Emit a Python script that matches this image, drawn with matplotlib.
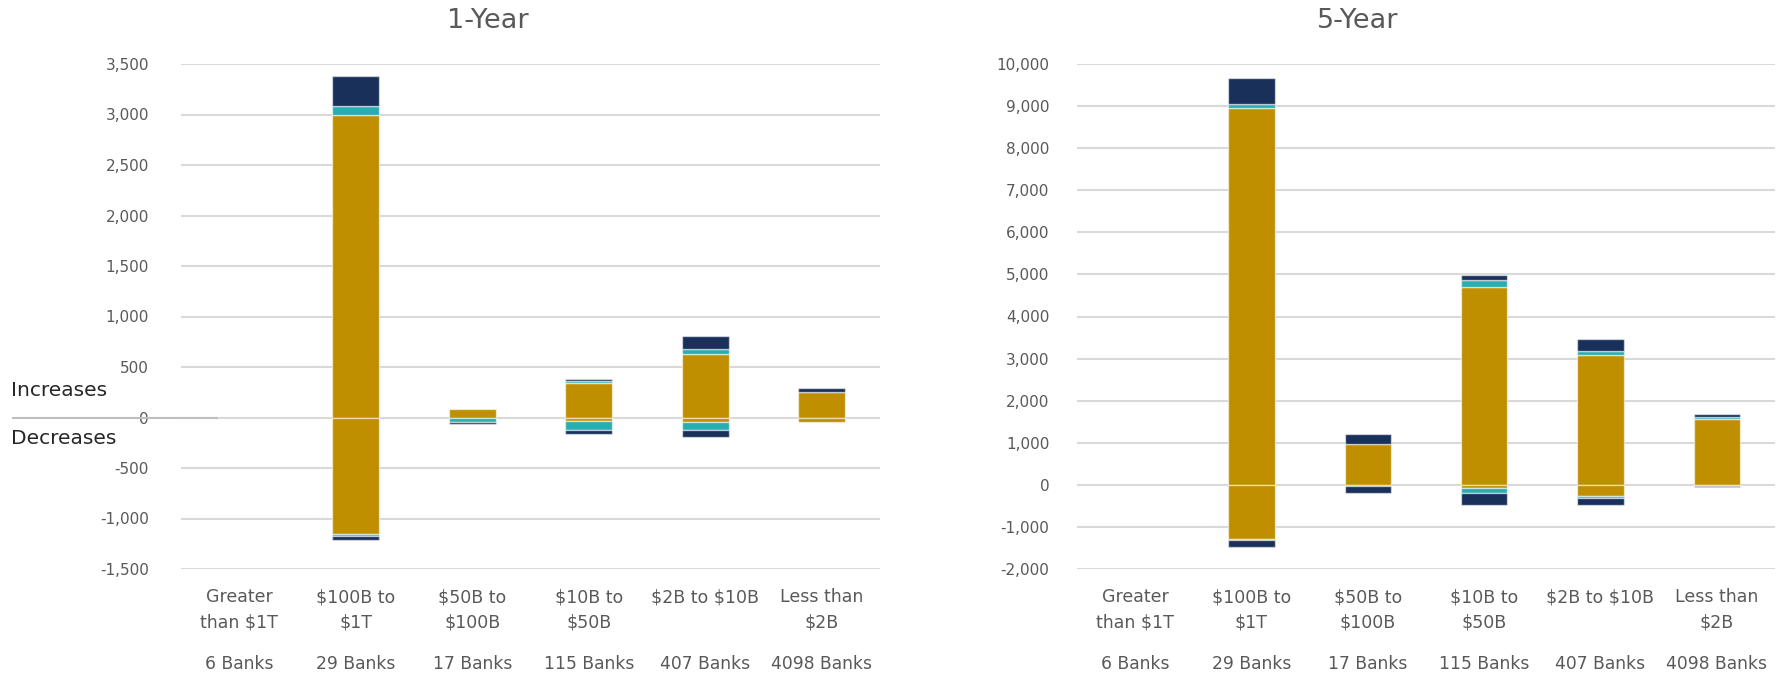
import matplotlib
matplotlib.use("Agg")
import matplotlib.pyplot as plt
import numpy as np
from matplotlib.lines import Line2D
from matplotlib.ticker import FuncFormatter
import matplotlib.transforms as mtransforms

plt.rcParams['font.family'] = ['DejaVu Sans']

categories = ["Greater\nthan \\$1T", "\\$100B to\n\\$1T", "\\$50B to\n\\$100B",
              "\\$10B to\n\\$50B", "\\$2B to \\$10B", "Less than\n\\$2B"]
bank_counts = ["6 Banks", "29 Banks", "17 Banks", "115 Banks", "407 Banks", "4098 Banks"]

# 1-Year
inc_gold_1 = [0, 3000, 83, 340, 632, 257]
inc_teal_1 = [0, 85, 0, 20, 46, 0]
inc_navy_1 = [0, 295, 0, 20, 128, 36]
dec_gold_1 = [0, -1150, 0, -33, -42, -42]
dec_teal_1 = [0, -25, -42, -88, -79, 0]
dec_navy_1 = [0, -35, -27, -47, -73, 0]

# 5-Year
inc_gold_5 = [0, 8960, 968, 4710, 3085, 1574]
inc_teal_5 = [0, 100, 0, 150, 100, 47]
inc_navy_5 = [0, 605, 238, 130, 290, 64]
dec_gold_5 = [0, -1290, 0, -80, -265, -28]
dec_teal_5 = [0, -30, -30, -120, -55, 0]
dec_navy_5 = [0, -160, -170, -270, -150, -32]

yticks_1 = [-1500, -1000, -500, 0, 500, 1000, 1500, 2000, 2500, 3000, 3500]
yticks_5 = [-2000, -1000, 0, 1000, 2000, 3000, 4000, 5000, 6000, 7000, 8000, 9000, 10000]

GOLD = '#BF8F00'
TEAL = '#2AADB0'
NAVY = '#18305A'
TXT = '#595959'

W, H = 1779, 673
fig = plt.figure(figsize=(W / 100, H / 100), dpi=100)

def px_axes(x0, x1, y0, y1):
    return fig.add_axes([x0 / W, 1 - y1 / H, (x1 - x0) / W, (y1 - y0) / H])

ax1 = px_axes(181, 880, 64, 569)
ax2 = px_axes(1077, 1775, 64, 569)

def draw(ax, incs, decs, yticks, ypad):
    x = np.arange(len(categories))
    colors = [GOLD, TEAL, NAVY]
    for group in (incs, decs):
        bottom = np.zeros(len(x))
        for vals, c in zip(group, colors):
            v = np.array(vals, dtype=float)
            lw = [1.0 if val != 0 else 0.0 for val in v]
            ax.bar(x, v, 0.4, bottom=bottom, color=c, edgecolor=(1, 1, 1, 0.55),
                   linewidth=lw, zorder=3)
            bottom += v
    ax.set_xlim(-0.5, len(x) - 0.5)
    ax.set_ylim(yticks[0], yticks[-1])
    ax.set_yticks(yticks)
    ax.yaxis.set_major_formatter(FuncFormatter(lambda v, p: f"{int(v):,}"))
    ax.grid(axis='y', color='#d9d9d9', linewidth=1.5, zorder=0)
    ax.set_axisbelow(True)
    for s in ax.spines.values():
        s.set_visible(False)
    ax.tick_params(axis='y', length=0, pad=ypad, labelsize=11, labelcolor=TXT)
    ax.tick_params(axis='x', length=0, pad=14, labelsize=12.5, labelcolor=TXT)
    ax.set_xticks(x)
    ax.set_xticklabels(categories, linespacing=1.5)
    trans = mtransforms.blended_transform_factory(ax.transData, ax.transAxes)
    for i, b in enumerate(bank_counts):
        ax.text(i, -0.188, b, transform=trans, ha='center', va='center',
                fontsize=12.3, color=TXT)

draw(ax1, [inc_gold_1, inc_teal_1, inc_navy_1], [dec_gold_1, dec_teal_1, dec_navy_1], yticks_1, 23)
draw(ax2, [inc_gold_5, inc_teal_5, inc_navy_5], [dec_gold_5, dec_teal_5, dec_navy_5], yticks_5, 20)

fig.text(488 / W, 1 - 21 / H, "1-Year", ha='center', va='center', fontsize=19.5, color=TXT)
fig.text(1358 / W, 1 - 21 / H, "5-Year", ha='center', va='center', fontsize=19.5, color=TXT)

fig.text(11 / W, 1 - 390 / H, "Increases", ha='left', va='center', fontsize=14.5, color='#262626')
fig.text(11 / W, 1 - 439 / H, "Decreases", ha='left', va='center', fontsize=14.5, color='#262626')
fig.add_artist(Line2D([13 / W, 217 / W], [1 - 417.5 / H, 1 - 417.5 / H],
                      transform=fig.transFigure, color='#bfbfbf', linewidth=1.5))

fig.savefig("out.png", dpi=100, facecolor='white')
